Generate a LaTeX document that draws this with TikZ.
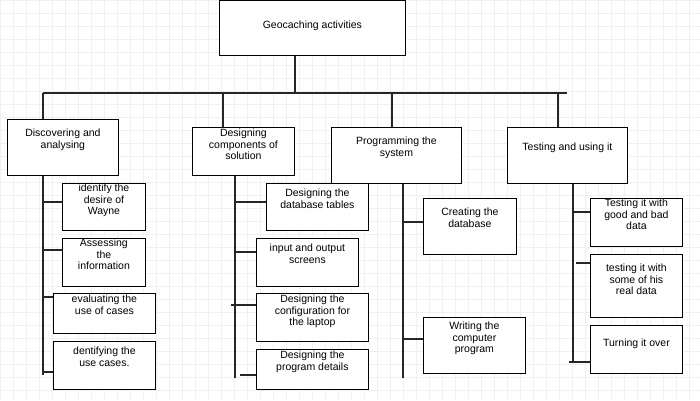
\documentclass[tikz,border=0pt]{standalone}
\usepackage{fontspec}
\setmainfont{Liberation Sans}
\usetikzlibrary{positioning}
\tikzset{
   mybox/.style={draw, thick, fill=white, anchor=north west, inner sep=0pt},
   mytext/.style={align=center, font=\fontsize{10.5}{11.5}\selectfont, inner sep=0pt},
   mylink/.style={line width=1.6pt, draw=black!85},
   mygrid/.style={draw=black!6, line width=.4pt}
}
% box: name, x1, y1, x2, y2, gap, text
\newcommand{\wbs}[7]{%
   \node[mybox, minimum width={(#4-#2)*1pt}, minimum height={(#5-#3)*1pt}] (#1) at (#2,#3) {};
   \node[mytext, below=#6pt of #1.north] (#1-t) {#7};}
\begin{document}
\begin{tikzpicture}[x=1pt, y=-1pt]
      \useasboundingbox (0,0) rectangle (700,400);
      \fill[white] (0,0) rectangle (700,400);
      \draw[mygrid, step=13pt] (0,0) grid (700,400);
      \wbs{root}{219}{0}{405}{55}{21}{Geocaching activities}
      \wbs{disc}{7}{119}{118}{175}{10}{Discovering and\\analysing}
      \wbs{desg}{192}{127}{294}{175}{2}{Designing\\components of\\solution}
      \wbs{prog}{331}{127}{461}{183}{10}{Programming the\\system}
      \wbs{test}{507}{127}{627}{183}{16}{Testing and using it}
      % children
      \wbs{d1}{62}{183}{145}{230}{1}{identify the\\desire of\\Wayne}
      \wbs{d2}{62}{238}{145}{286}{1}{Assessing\\the\\information}
      \wbs{d3}{53}{293}{155}{333}{2}{evaluating the\\use of cases}
      \wbs{d4}{53}{341}{155}{389}{6}{dentifying the\\use cases.}
      \wbs{g1}{266}{183}{368}{230}{6}{Designing the\\database tables}
      \wbs{g2}{256}{238}{358}{286}{6}{input and output\\screens}
      \wbs{g3}{256}{293}{368}{341}{2}{Designing the\\configuration for\\the laptop}
      \wbs{g4}{256}{349}{368}{389}{2}{Designing the\\program details}
      \wbs{p1}{423}{198}{516}{254}{10}{Creating the\\database}
      \wbs{p2}{423}{317}{525}{373}{5}{Writing the\\computer\\program}
      \wbs{t1}{590}{198}{682}{246}{1}{Testing it with\\good and bad\\data}
      \wbs{t2}{590}{254}{682}{317}{10}{testing it with\\some of his\\real data}
      \wbs{t3}{590}{325}{682}{373}{14}{Turning it over}
      % tree
      \coordinate (bl) at (43,93);
      \coordinate (br) at (567,93);
      \draw[mylink] (bl) -- (br);
      \draw[mylink] (root.south -| 295,0) -- (295,93);
      \draw[mylink] (bl) -- (disc.north -| bl);
      \draw[mylink] (223,93) -- (desg.north -| 223,0);
      \draw[mylink] (392,93) -- (prog.north -| 392,0);
      \draw[mylink] (558,93) -- (test.north -| 558,0);
      % spines
      \draw[mylink] (disc.south -| 43,0) -- (43,375);
      \draw[mylink] (desg.south -| 235,0) -- (235,378);
      \draw[mylink] (prog.south -| 403,0) -- (403,378);
      \draw[mylink] (test.south -| 573,0) -- (573,362);
      % ticks
      \foreach \b/\x/\y in {d1/43/202, d2/43/250, d3/43/297, d4/43/372,
                            g1/235/202, g2/235/252, g3/231/305, g4/240/375,
                            p1/403/222, p2/403/339,
                            t1/573/212, t2/576/263, t3/569/362}
         \draw[mylink] (\x,\y) -- (\b.west |- 0,\y);
\end{tikzpicture}
\end{document}
